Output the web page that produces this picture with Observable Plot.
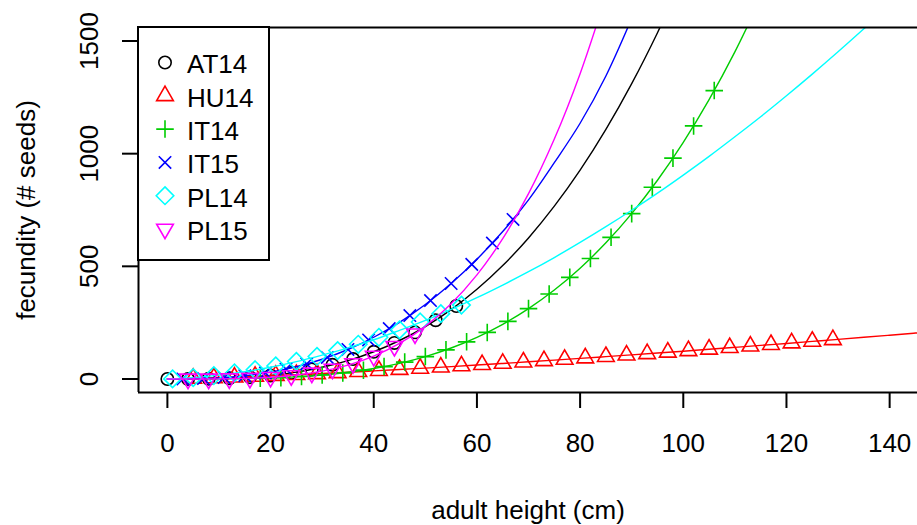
<!DOCTYPE html>
<html>
<head>
<meta charset="utf-8">
<script src="https://cdn.jsdelivr.net/npm/d3@7"></script>
<script src="https://cdn.jsdelivr.net/npm/@observablehq/plot@0.6"></script>
<style>
html, body { margin: 0; padding: 0; background: #fff; }
#wrap { position: relative; width: 917px; height: 525px; overflow: hidden; font-family: "Liberation Sans", Arial, sans-serif; }
</style>
</head>
<body>
<div id="wrap"></div>
<script>
// ---- axes ----
const xTicks = [0, 20, 40, 60, 80, 100, 120, 140];
const yTicks = [0, 500, 1000, 1500];
const xDomain = [-5.6, 145.4];
const yDomain = [-60, 1560];
const xLabel = "adult height (cm)";
const yLabel = "fecundity (# seeds)";

// ---- series ----
const seriesNames = ["AT14", "HU14", "IT14", "IT15", "PL14", "PL15"];
const seriesColors = ["#000000", "#FF0000", "#00CD00", "#0000FF", "#00FFFF", "#FF00FF"];
const seriesSymbols = ["circle", "triangleUp", "plus", "times", "diamond", "triangleDown"];

// fitted curves, sampled every 5 cm
const curveX = [0, 5, 10, 15, 20, 25, 30, 35, 40, 45, 50, 55, 60, 65, 70, 75, 80, 85, 90, 95, 100, 105, 110, 115, 120, 125, 130, 135, 140, 145, 150];
const at14CurveY = [0, 0.3, 2.1, 6.8, 15.7, 30.3, 51.9, 81.6, 120.8, 170.8, 232.8, 308.1, 397.9, 503.5, 626, 767, 927, 1108, 1311, 1537, 1787];
const hu14CurveY = [0, 2.2, 5.5, 9.5, 14.1, 19.0, 24.3, 29.9, 35.8, 42.0, 48.4, 55.0, 61.9, 69.0, 76.2, 83.7, 91.3, 99.1, 107, 115.1, 123.4, 131.8, 140.3, 149, 157.8, 166.8, 175.8, 185, 194.3, 203.8, 213.4];
const it14CurveY = [0, 0.04, 0.4, 1.7, 4.4, 9.4, 17.5, 29.6, 46.6, 69.5, 99.4, 137.5, 184.9, 242.7, 312.3, 394.7, 491.7, 604.2, 733.9, 881.9, 1050, 1239.6, 1452, 1688.7];
const it15CurveY = [0, 0.8, 5.0, 14.5, 30.5, 54.5, 87.7, 130.9, 185.2, 251.5, 330.8, 423.8, 531.5, 654.3, 795, 960, 1135, 1345, 1600];
const pl14CurveY = [0, 6, 17, 32, 52, 77, 106, 138, 174, 216, 260, 309, 361, 417, 476, 539, 606, 676, 749, 825, 905, 988, 1075, 1164, 1257, 1353, 1452, 1554, 1659];
const pl15CurveY = [0, 0.05, 0.6, 2.6, 7.6, 17.5, 34.6, 61.5, 101.4, 157.6, 233.6, 333.7, 462, 623, 822.5, 1064.7, 1355, 1700];

// plotted points
const at14PointX = [0, 4, 8, 12, 16, 20, 24, 28, 32, 36, 40, 44, 48, 52, 56];
const at14PointY = [0, 0.1, 1.1, 3.5, 8.2, 15.7, 26.9, 42.3, 62.8, 88.5, 120.7, 160, 207, 261, 324];
const hu14PointX = [5, 9, 13, 17, 21, 25, 29, 33, 37, 41, 45, 49, 53, 57, 61, 65, 69, 73, 77, 81, 85, 89, 93, 97, 101, 105, 109, 113, 117, 121, 125, 129];
const hu14PointY = [2.2, 4.8, 7.9, 11.3, 15.0, 19.0, 23.2, 27.6, 32.2, 37.0, 42.0, 47.1, 52.4, 57.8, 63.3, 69.0, 74.8, 80.7, 86.7, 92.8, 99.1, 105.4, 111.9, 118.4, 125.1, 131.8, 138.6, 145.5, 152.5, 159.6, 166.8, 174];
const it14PointX = [18, 22, 26, 30, 34, 38, 42, 46, 50, 54, 58, 62, 66, 70, 74, 78, 82, 86, 90, 94, 98, 102, 106];
const it14PointY = [3.1, 6.1, 10.8, 17.5, 26.8, 39.1, 55.0, 74.9, 99.4, 129.2, 164.8, 206.7, 255.7, 312.3, 377.1, 451, 534.7, 628.7, 733.9, 850.9, 980.2, 1123.2, 1280];
const it15PointX = [3, 7, 11, 15, 19, 23, 27, 31, 35, 39, 43, 47, 51, 55, 59, 63, 67];
const it15PointY = [0.2, 2.0, 6.5, 14.5, 26.7, 43.9, 66.7, 95.5, 130.9, 173.4, 224, 281.6, 348.2, 423.8, 508.7, 603.3, 708];
const pl14PointX = [1, 5, 9, 13, 17, 21, 25, 29, 33, 37, 41, 45, 49, 53, 57];
const pl14PointY = [0.3, 6, 15, 27, 41, 58, 78, 100, 126, 154, 185, 218, 253, 290, 328];
const pl15PointX = [4, 8, 12, 16, 20, 24, 28, 32, 36, 40, 44, 48];
const pl15PointY = [0.02, 0.25, 1.1, 3.3, 7.6, 15.0, 26.7, 44.0, 68.4, 101.4, 144.8, 200.6];

const curveYs = [at14CurveY, hu14CurveY, it14CurveY, it15CurveY, pl14CurveY, pl15CurveY];
const pointXs = [at14PointX, hu14PointX, it14PointX, it15PointX, pl14PointX, pl15PointX];
const pointYs = [at14PointY, hu14PointY, it14PointY, it15PointY, pl14PointY, pl15PointY];

// ---- R-like plotting symbols ----
function rSymbol(kind) {
  return {
    draw(ctx, size) {
      const r = Math.sqrt(size / Math.PI);
      if (kind === "circle") {
        ctx.moveTo(r, 0); ctx.arc(0, 0, r, 0, 2 * Math.PI);
      } else if (kind === "triangleUp" || kind === "triangleDown") {
        const t = 1.5551 * r, s = kind === "triangleUp" ? 1 : -1;
        ctx.moveTo(0, -s * t); ctx.lineTo(0.866 * t, s * t / 2); ctx.lineTo(-0.866 * t, s * t / 2); ctx.closePath();
      } else if (kind === "plus") {
        const h = Math.SQRT2 * r;
        ctx.moveTo(-h, 0); ctx.lineTo(h, 0); ctx.moveTo(0, -h); ctx.lineTo(0, h);
      } else if (kind === "times") {
        ctx.moveTo(-r, -r); ctx.lineTo(r, r); ctx.moveTo(-r, r); ctx.lineTo(r, -r);
      } else if (kind === "diamond") {
        const h = Math.SQRT2 * r;
        ctx.moveTo(0, -h); ctx.lineTo(h, 0); ctx.lineTo(0, h); ctx.lineTo(-h, 0); ctx.closePath();
      }
    }
  };
}

const symR = 6.2;
const marks = [];
seriesNames.forEach((name, i) => {
  const curve = curveYs[i].map((y, j) => ({x: curveX[j], y}));
  const pts = pointXs[i].map((x, j) => ({x, y: pointYs[i][j]}));
  marks.push(Plot.line(curve, {x: "x", y: "y", stroke: seriesColors[i], strokeWidth: 1.4, curve: "catmull-rom", clip: true}));
  marks.push(Plot.dot(pts, {x: "x", y: "y", r: symR, symbol: rSymbol(seriesSymbols[i]), fill: "none", stroke: seriesColors[i], strokeWidth: 1.6, clip: true}));
});

const txt = {fontSize: 26, fill: "black", textAnchor: "middle", lineAnchor: "middle"};

const chart = Plot.plot({
  width: 917,
  height: 525,
  marginLeft: 138,
  marginRight: 0,
  marginTop: 27,
  marginBottom: 133,
  style: {fontFamily: '"Liberation Sans", Arial, sans-serif', fontSize: "26px", color: "black", background: "white", overflow: "visible"},
  x: {domain: xDomain},
  y: {domain: yDomain},
  marks: [
    ...marks,
    Plot.ruleY([yDomain[0], yDomain[1]], {stroke: "black", strokeWidth: 2}),
    Plot.ruleX([xDomain[0]], {stroke: "black", strokeWidth: 2}),
    Plot.axisX({ticks: xTicks, tickSize: 16, tickFormat: () => "", strokeWidth: 2, label: null}),
    Plot.axisY({ticks: yTicks, tickSize: 16, tickFormat: () => "", strokeWidth: 2, label: null}),
    Plot.text(xTicks, {...txt, x: d => d, text: d => String(d), frameAnchor: "bottom", dy: 51}),
    Plot.text(yTicks, {...txt, y: d => d, text: d => String(d), frameAnchor: "left", dx: -49, rotate: -90}),
    Plot.text([xLabel], {...txt, text: d => d, frameAnchor: "bottom", dy: 118.5}),
    Plot.text([yLabel], {...txt, text: d => d, frameAnchor: "left", dx: -112, rotate: -90})
  ]
});

const wrap = document.getElementById("wrap");
wrap.appendChild(chart);

// ---- legend (top-left, inside the plot box) ----
const leg = d3.create("svg")
  .attr("width", 917).attr("height", 525)
  .style("position", "absolute").style("left", "0px").style("top", "0px")
  .style("font-family", '"Liberation Sans", Arial, sans-serif');
leg.append("rect").attr("x", 138).attr("y", 27).attr("width", 131).attr("height", 233)
  .attr("fill", "white").attr("stroke", "black").attr("stroke-width", 2);
seriesNames.forEach((name, i) => {
  const cy = 62.5 + 33.3 * i;
  const p = d3.path();
  rSymbol(seriesSymbols[i]).draw(p, Math.PI * symR * symR);
  leg.append("path").attr("d", p.toString()).attr("transform", `translate(165,${cy})`)
    .attr("fill", "none").attr("stroke", seriesColors[i]).attr("stroke-width", 1.6);
  leg.append("text").attr("x", 187).attr("y", 73.3 + 33.3 * i)
    .attr("font-size", 26).attr("fill", "black").text(name);
});
wrap.appendChild(leg.node());
</script>
</body>
</html>
